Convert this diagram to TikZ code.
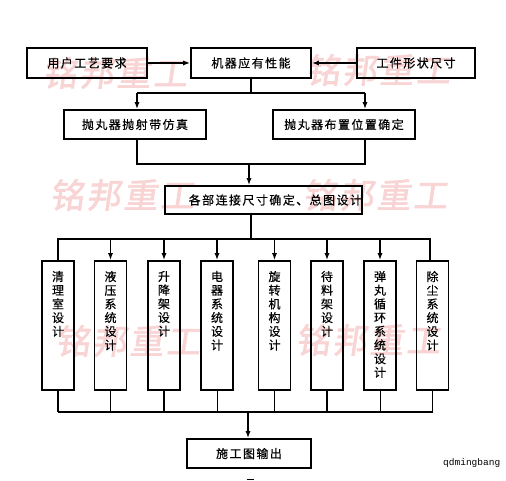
\documentclass[tikz,border=0pt]{standalone}
\usepackage{fontspec}
\setmainfont{Noto Sans CJK SC}
\newfontfamily\cjkf[LetterSpace=12,FakeBold=0.4]{Noto Sans CJK SC}
\newfontfamily\wmf[LetterSpace=8,FakeBold=2,FakeSlant=0.15]{Noto Sans CJK SC}
\newfontfamily\monof{Liberation Mono}
\usetikzlibrary{arrows.meta}
\definecolor{wmcol}{RGB}{249,212,212}
\newcommand\vtxt[1]{\parbox[c][129pt][t]{32pt}{\centering\vspace*{10pt}#1\par}}
\begin{document}
\begin{tikzpicture}[x=1pt,y=-1pt,
  box/.style={draw, line width=1.6pt, inner sep=0pt, font=\cjkf\fontsize{12}{13.7}\selectfont},
  vbox/.style={box, minimum width=32pt, minimum height=129pt},
  arr/.style={line width=1.6pt, -{Latex[length=7pt,width=5pt]}},
  ln/.style={line width=1.6pt},
  thinln/.style={line width=0.7pt},
  wmk/.style={text=wmcol, inner sep=0pt, font=\wmf\fontsize{34}{36}\selectfont}]
\fill[white] (0,0) rectangle (506,481);
\useasboundingbox (0,0) rectangle (506,481);
% watermarks
\node[wmk] (w1) at (115,73) {铭邦重工};
\node[wmk] (w2) at (378,70) {铭邦重工};
\node[wmk] (w3) at (122,195) {铭邦重工};
\node[wmk] (w4) at (375,195) {铭邦重工};
\node[wmk] (w5) at (128,341) {铭邦重工};
\node[wmk] (w6) at (368,340) {铭邦重工};
% top row
\node[box, minimum width=120pt, minimum height=30pt] (a1) at (87,63) {用户工艺要求};
\node[box, minimum width=120pt, minimum height=30pt] (a2) at (251,63) {机器应有性能};
\node[box, minimum width=118pt, minimum height=30pt] (a3) at (416,63) {工件形状尺寸};
\draw[arr] (a1.east) -- (a2.west);
\draw[arr] (a3.west) -- (a2.east);
% second row
\node[box, minimum width=142pt, minimum height=29pt] (b1) at (135,124.5) {抛丸器抛射带仿真};
\node[box, minimum width=142pt, minimum height=29pt] (b2) at (344,124.5) {抛丸器布置位置确定};
\coordinate (j1) at (251,93);
\coordinate (j1l) at (137,93);
\coordinate (j1r) at (365,93);
\draw[ln] (a2.south) -- (j1);
\draw[ln] (j1l) -- (j1r);
\draw[arr] (j1l) -- (j1l |- b1.north);
\draw[arr] (j1r) -- (j1r |- b2.north);
% third
\node[box, minimum width=197pt, minimum height=28pt, text width=197pt, align=right] (c1) at (263.5,200) {各部连接尺寸确定、总图设计\hspace*{3pt}};
\coordinate (j2l) at (137,164);
\coordinate (j2r) at (365,164);
\draw[ln] (j2l |- b1.south) -- (j2l) -- (j2r) -- (j2r |- b2.south);
\coordinate (j2) at (249,164);
\draw[arr] (j2) -- (j2 |- c1.north);
% fourth row
\node[vbox] (d1) at (58,325.5) {\vtxt{清\\理\\室\\设\\计}};
\node[vbox] (d2) at (110.5,325.5) {\vtxt{液\\压\\系\\统\\设\\计}};
\node[vbox] (d3) at (164,325.5) {\vtxt{升\\降\\架\\设\\计}};
\node[vbox] (d4) at (217,325.5) {\vtxt{电\\器\\系\\统\\设\\计}};
\node[vbox] (d5) at (274.5,325.5) {\vtxt{旋\\转\\机\\构\\设\\计}};
\node[vbox] (d6) at (327,325.5) {\vtxt{待\\料\\架\\设\\计}};
\node[vbox] (d7) at (380,325.5) {\vtxt{弹\\丸\\循\\环\\系\\统\\设\\计}};
\node[vbox] (d8) at (432.5,325.5) {\vtxt{除\\尘\\系\\统\\设\\计}};
\coordinate (j3) at (251,239);
\coordinate (j3l) at (58,239);
\coordinate (j3r) at (430,239);
\draw[ln] (c1.south -| j3) -- (j3);
\draw[ln] (d1.north) -- (j3l) -- (j3r) -- (j3r |- d8.north);
\foreach \n in {2,3,4,5,6,7}{
  \draw[arr] (d\n.north |- j3) -- (d\n.north);
}
% bottom
\coordinate (j4l) at (58,412);
\coordinate (j4r) at (432.5,412);
\foreach \n in {1,2,3,6,8}{
  \draw[ln] (d\n.south) -- (d\n.south |- j4l);
}
\foreach \n in {4,5,7}{
  \draw[thinln] (d\n.south) -- (d\n.south |- j4l);
}
\draw[ln] (j4l) -- (j4r);
\node[box, minimum width=124pt, minimum height=29pt] (e1) at (249,453.5) {施工图输出};
\coordinate (j4) at (248,412);
\draw[arr] (j4) -- (j4 |- e1.north);
% extras
\node[inner sep=0pt, anchor=base west, font=\monof\fontsize{9.5}{10}\selectfont] (q) at (443,465) {qdmingbang};
\coordinate (m1) at (246.5,479.5);
\coordinate (m2) at (253.5,479.5);
\draw[line width=1.4pt] (m1) -- (m2);
\end{tikzpicture}
\end{document}
